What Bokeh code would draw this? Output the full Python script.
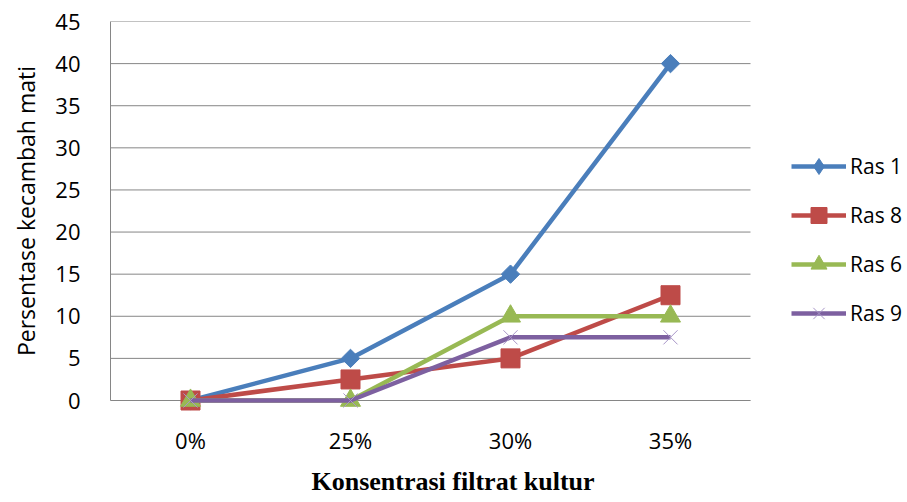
import math
from bokeh.plotting import figure
from bokeh.models import Range1d, Legend, LegendItem, FixedTicker, Title
from bokeh.embed import file_html
from bokeh.resources import INLINE

categories = ["0%", "25%", "30%", "35%"]
ras1 = [0, 5, 15, 40]
ras8 = [0, 2.5, 5, 12.5]
ras6 = [0, 0, 10, 10]
ras9 = [0, 0, 7.5, 7.5]
y_ticks = [0, 5, 10, 15, 20, 25, 30, 35, 40, 45]

# one unit per category, category centred in its slot
xs = [i + 0.5 for i in range(len(categories))]
n = len(categories)

p = figure(width=907, height=502, output_backend="svg", toolbar_location=None,
           x_range=Range1d(0, n * 797 / 640), y_range=Range1d(0, 45),
           min_border_left=110, min_border_right=0, min_border_top=21, min_border_bottom=102)
p.outline_line_color = None
p.background_fill_color = "white"
p.border_fill_color = "white"

grey = "#868686"
p.xgrid.grid_line_color = None
p.ygrid.grid_line_color = None
p.segment(x0=[0] * len(y_ticks), x1=[n] * len(y_ticks), y0=y_ticks, y1=y_ticks,
          line_color=grey, line_width=1, level="underlay")

p.yaxis.ticker = FixedTicker(ticks=y_ticks)
p.xaxis.ticker = FixedTicker(ticks=xs)
p.xaxis.major_label_overrides = {x: c for x, c in zip(xs, categories)}
p.xaxis.bounds = (0, n)

for ax in (p.xaxis[0], p.yaxis[0]):
    ax.axis_line_color = grey
    ax.major_tick_line_color = None
    ax.minor_tick_line_color = None
    ax.major_label_text_font = "Open Sans"
    ax.major_label_text_font_size = "22px"
    ax.major_label_text_color = "#000000"

p.yaxis.major_label_standoff = 24
p.xaxis.major_label_standoff = 18
p.yaxis.axis_label = "Persentase kecambah mati"
p.yaxis.axis_label_text_font = "Open Sans"
p.yaxis.axis_label_text_font_style = "normal"
p.yaxis.axis_label_text_font_size = "23px"
p.yaxis.axis_label_text_color = "#000000"
p.yaxis.axis_label_standoff = 10

xtitle = Title(text="Konsentrasi filtrat kultur", align="left", offset=201,
               text_font="Liberation Serif", text_font_style="bold",
               text_font_size="26px", text_color="#000000", standoff=14)
p.add_layout(xtitle, "below")

series = [
    ("Ras 1", ras1, "#4A7EBB", "square", 13, math.pi / 4, "#4A7EBB", "diamond"),
    ("Ras 8", ras8, "#BE4B48", "square", 19, 0, "#BE4B48", None),
    ("Ras 6", ras6, "#98B954", "triangle", 20, 0, "#98B954", None),
    ("Ras 9", ras9, "#7D60A0", "x", 20, 0, "#A896C8", None),
]

items = []
for name, vals, col, marker, size, ang, mcol, legend_marker in series:
    r1 = p.line(xs, vals, line_color=col, line_width=4.5, level="overlay")
    rl = None
    if legend_marker:
        # diamond that sits inside the rotated square; used for the legend swatch
        rl = p.scatter(xs, vals, marker=legend_marker, size=14, fill_color=col,
                       line_color=mcol, line_width=1, level="overlay")
    r2 = p.scatter(xs, vals, marker=marker, size=size, angle=ang,
                   fill_color=col, line_color=mcol, line_width=1, level="overlay")
    items.append(LegendItem(label=name, renderers=[r1, rl if rl is not None else r2]))

legend = Legend(items=items, location=(681, 67), padding=0, margin=0,
                spacing=9, label_height=40, glyph_height=40, glyph_width=55,
                label_standoff=4, border_line_color=None, background_fill_alpha=0,
                label_text_font="Open Sans", label_text_font_size="21px",
                label_text_color="#000000")
p.add_layout(legend, "center")

open("out.html", "w").write(file_html(p, INLINE))
